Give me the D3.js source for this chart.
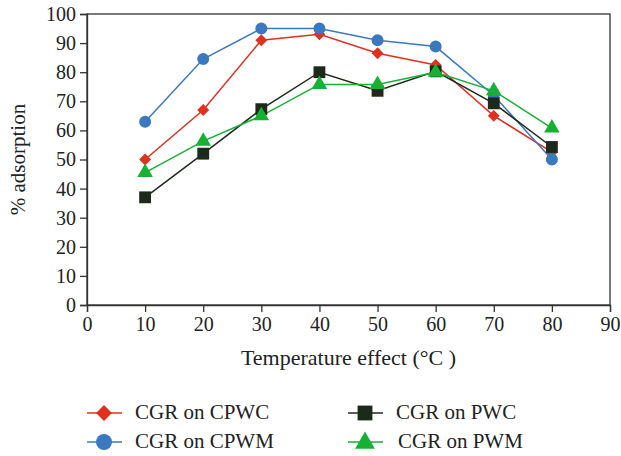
<!DOCTYPE html>
<html>
<head>
<meta charset="utf-8">
<script src="https://cdn.jsdelivr.net/npm/d3@7"></script>
<style>
  body { margin: 0; background: #fff; }
  svg text { font-family: "Liberation Serif", "DejaVu Serif", serif; fill: #222; }
</style>
</head>
<body>
<div class="chart"></div>
<script>
var temps = [10, 20, 30, 40, 50, 60, 70, 80];
var cpwc = [50, 67, 91, 93, 86.5, 82.5, 65, 52.5];
var cpwm = [63, 84.5, 95, 95, 91, 88.8, 72, 50];
var pwc = [37, 52, 67.3, 80, 73.6, 80.3, 69.3, 54.3];
var pwm = [45.5, 56.3, 65, 75.8, 75.8, 80, 73.6, 60.8];
var xTicks = [0, 10, 20, 30, 40, 50, 60, 70, 80, 90];
var yTicks = [0, 10, 20, 30, 40, 50, 60, 70, 80, 90, 100];

var series = [
  {name: "CGR on CPWC", values: cpwc, color: "#e0301e", shape: d3.symbolDiamond2, size: 90, lsize: 160},
  {name: "CGR on CPWM", values: cpwm, color: "#3a78c0", shape: d3.symbolCircle, size: 113, lsize: 200},
  {name: "CGR on PWC", values: pwc, color: "#1d2a1b", shape: d3.symbolSquare, size: 140, lsize: 220},
  {name: "CGR on PWM", values: pwm, color: "#16b033", shape: d3.symbolTriangle, size: 105, lsize: 170}
];

var width = 621, height = 456;
var m = {left: 87, right: 11, top: 14, bottom: 151};

var svg = d3.select(".chart").append("svg")
  .attr("width", width)
  .attr("height", height);

var x = d3.scaleLinear().domain([0, 90]).range([m.left, width - m.right]);
var y = d3.scaleLinear().domain([0, 100]).range([height - m.bottom, m.top]);

// frame
svg.append("rect")
  .attr("x", x(0)).attr("y", y(100))
  .attr("width", x(90) - x(0)).attr("height", y(0) - y(100))
  .attr("fill", "none").attr("stroke", "#333").attr("stroke-width", 1.3);

var xAxis = svg.append("g")
  .attr("transform", "translate(0," + y(0) + ")")
  .call(d3.axisBottom(x).tickValues(xTicks).tickSize(7).tickPadding(5));
var yAxis = svg.append("g")
  .attr("transform", "translate(" + x(0) + ",0)")
  .call(d3.axisLeft(y).tickValues(yTicks).tickSize(7).tickPadding(4));

[xAxis, yAxis].forEach(function(g) {
  g.select(".domain").attr("stroke", "#333").attr("stroke-width", 1.3);
  g.selectAll(".tick line").attr("stroke", "#333").attr("stroke-width", 1.3);
  g.selectAll(".tick text")
    .attr("font-family", "Liberation Serif, serif")
    .attr("font-size", 20).attr("fill", "#222");
});

svg.append("text")
  .attr("x", (x(0) + x(90)) / 2)
  .attr("y", 365)
  .attr("text-anchor", "middle")
  .attr("font-size", 22)
  .text("Temperature effect (°C )");

svg.append("text")
  .attr("transform", "translate(25," + (y(50)) + ") rotate(-90)")
  .attr("text-anchor", "middle")
  .attr("font-size", 21)
  .text("% adsorption");

var line = d3.line()
  .x(function(d, i) { return x(temps[i]); })
  .y(function(d) { return y(d); });

series.forEach(function(s) {
  svg.append("path")
    .datum(s.values)
    .attr("d", line)
    .attr("fill", "none")
    .attr("stroke", s.color)
    .attr("stroke-width", 1.5);
});

series.forEach(function(s) {
  svg.selectAll(null)
    .data(s.values)
    .enter().append("path")
    .attr("d", d3.symbol().type(s.shape).size(s.size))
    .attr("transform", function(d, i) { return "translate(" + x(temps[i]) + "," + y(d) + ")"; })
    .attr("fill", s.color);
});

// legend
var legendPos = [[87, 413], [87, 442], [348, 413], [348, 442]];
series.forEach(function(s, i) {
  var p = legendPos[i];
  var g = svg.append("g").attr("transform", "translate(" + p[0] + "," + p[1] + ")");
  g.append("line").attr("x1", 0).attr("x2", 35).attr("stroke", s.color).attr("stroke-width", 1.5);
  g.append("path")
    .attr("d", d3.symbol().type(s.shape).size(s.lsize))
    .attr("transform", "translate(17," + (s.shape === d3.symbolTriangle ? 1 : 0) + ")")
    .attr("fill", s.color);
  g.append("text")
    .attr("x", i === 3 ? 50 : 48).attr("y", 6)
    .attr("font-size", 21)
    .text(s.name);
});
</script>
</body>
</html>
